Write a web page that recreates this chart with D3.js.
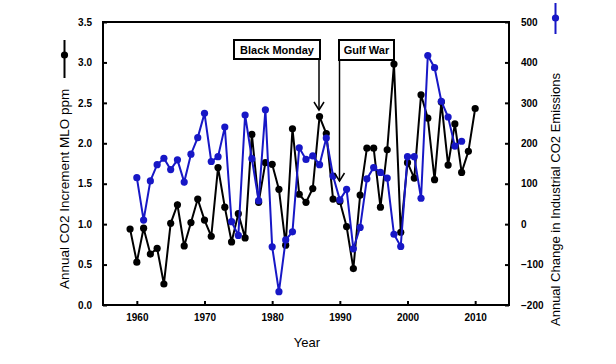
<!DOCTYPE html>
<html>
<head>
<meta charset="utf-8">
<script src="https://d3js.org/d3.v7.min.js"></script>
<style>
  html, body { margin: 0; padding: 0; background: #fff; }
  svg { display: block; }
</style>
</head>
<body>
<div id="chart"></div>
<script>
// ---- data ----
const co2Years = d3.range(1959, 2011);
const co2Increment = [0.94, 0.53, 0.95, 0.63, 0.70, 0.26, 1.01, 1.24, 0.73, 1.02,
  1.31, 1.05, 0.85, 1.70, 1.21, 0.78, 1.13, 0.83, 2.11, 1.27,
  1.76, 1.74, 1.43, 0.74, 2.18, 1.37, 1.27, 1.44, 2.33, 2.12,
  1.31, 1.28, 0.97, 0.45, 1.36, 1.94, 1.94, 1.21, 1.92, 2.98,
  0.90, 1.76, 1.57, 2.60, 2.31, 1.55, 2.51, 1.73, 2.24, 1.64,
  1.90, 2.43];
const emisYears = d3.range(1960, 2009);
const emisChange = [115, 10, 107, 147, 163, 135, 159, 104, 173, 214,
  274, 155, 167, 240, 6, -28, 270, 162, 58, 283,
  -56, -167, -39, -19, 189, 160, 169, 147, 213, 119,
  60, 86, -61, -8, 112, 140, 128, 114, -25, -55,
  167, 167, 64, 417, 387, 304, 265, 193, 205];
const xTicks = [1960, 1970, 1980, 1990, 2000, 2010];
const yLeftTicks = [0, 0.5, 1, 1.5, 2, 2.5, 3, 3.5];
const yRightTicks = [-200, -100, 0, 100, 200, 300, 400, 500];
const annotations = [
  { label: "Black Monday", year: 1987 },
  { label: "Gulf War", year: 1990 }
];
const xTitle = "Year";
const yLeftTitle = "Annual CO2 Increment MLO ppm";
const yRightTitle = "Annual Change in Industrial CO2 Emissions";

// ---- layout ----
const W = 616, H = 364;
const L = 103, R = 509, T = 22, B = 305;
const blue = "#1717c6";
const font = "'Liberation Sans', Arial, sans-serif";

const svg = d3.select("#chart").append("svg")
  .attr("width", W).attr("height", H)
  .style("font-family", font);

const x = d3.scaleLinear().domain([1955, 2015]).range([L, R]);
const yL = d3.scaleLinear().domain([0, 3.5]).range([B, T]);
const yR = d3.scaleLinear().domain([-200, 500]).range([B, T]);

// axes
function styleAxis(g) {
  g.select(".domain").remove();
  g.selectAll(".tick line").attr("stroke", "#000").attr("stroke-width", 2);
  g.selectAll(".tick text").attr("fill", "#000")
    .style("font-size", "10px").style("font-weight", "bold");
}
svg.append("g").attr("transform", `translate(0,${B})`)
  .call(d3.axisBottom(x).tickValues(xTicks).tickFormat(d3.format("d"))
    .tickSizeInner(-4).tickSizeOuter(0).tickPadding(9))
  .call(styleAxis);
svg.append("g").attr("transform", `translate(${L},0)`)
  .call(d3.axisLeft(yL).tickValues(yLeftTicks).tickFormat(d3.format(".1f"))
    .tickSizeInner(-4).tickSizeOuter(0).tickPadding(11))
  .call(styleAxis);
svg.append("g").attr("transform", `translate(${R},0)`)
  .call(d3.axisRight(yR).tickValues(yRightTicks).tickFormat(d3.format("d"))
    .tickSizeInner(-4).tickSizeOuter(0).tickPadding(12))
  .call(styleAxis);

// frame
svg.append("rect").attr("x", L).attr("y", T)
  .attr("width", R - L).attr("height", B - T)
  .attr("fill", "none").attr("stroke", "#000").attr("stroke-width", 2);

// series
const blackData = co2Years.map((yr, i) => [yr, co2Increment[i]]);
const blueData = emisYears.map((yr, i) => [yr, emisChange[i]]);
const mr = 3.6;

svg.append("path").datum(blackData)
  .attr("fill", "none").attr("stroke", "#000").attr("stroke-width", 2)
  .attr("d", d3.line().x(d => x(d[0])).y(d => yL(d[1])));
svg.append("g").selectAll("circle").data(blackData).join("circle")
  .attr("cx", d => x(d[0])).attr("cy", d => yL(d[1])).attr("r", mr)
  .attr("fill", "#000");

svg.append("path").datum(blueData)
  .attr("fill", "none").attr("stroke", blue).attr("stroke-width", 2)
  .attr("d", d3.line().x(d => x(d[0])).y(d => yR(d[1])));
svg.append("g").selectAll("circle").data(blueData).join("circle")
  .attr("cx", d => x(d[0])).attr("cy", d => yR(d[1])).attr("r", mr)
  .attr("fill", blue);

// annotations
const boxes = [
  { a: annotations[0], x0: 234, x1: 320, y0: 40, y1: 59, ax: 319, tipY: 110 },
  { a: annotations[1], x0: 339, x1: 394, y0: 40, y1: 60, ax: 339.5, tipY: 181 }
];
boxes.forEach(b => {
  svg.append("rect").attr("x", b.x0).attr("y", b.y0)
    .attr("width", b.x1 - b.x0).attr("height", b.y1 - b.y0)
    .attr("fill", "#fff").attr("stroke", "#000").attr("stroke-width", 2);
  svg.append("text").attr("x", (b.x0 + b.x1) / 2).attr("y", (b.y0 + b.y1) / 2 + 4)
    .attr("text-anchor", "middle").style("font-size", "11px").style("font-weight", "bold")
    .text(b.a.label);
  svg.append("line").attr("x1", b.ax).attr("x2", b.ax).attr("y1", b.y1).attr("y2", b.tipY)
    .attr("stroke", "#000").attr("stroke-width", 1.5);
  svg.append("path")
    .attr("d", `M${b.ax - 5},${b.tipY - 8} L${b.ax},${b.tipY} L${b.ax + 5},${b.tipY - 8}`)
    .attr("fill", "none").attr("stroke", "#000").attr("stroke-width", 1.5);
});

// titles
svg.append("text").attr("x", (L + R) / 2 + 1).attr("y", 347)
  .attr("text-anchor", "middle").style("font-size", "13px").text(xTitle);

svg.append("text")
  .attr("transform", `translate(69,289) rotate(-90)`)
  .attr("text-anchor", "start").style("font-size", "13.5px").text(yLeftTitle);
svg.append("line").attr("x1", 64.5).attr("x2", 64.5).attr("y1", 40).attr("y2", 78)
  .attr("stroke", "#000").attr("stroke-width", 2);
svg.append("circle").attr("cx", 64.5).attr("cy", 55).attr("r", mr).attr("fill", "#000");

svg.append("text")
  .attr("transform", `translate(560,326) rotate(-90)`)
  .attr("text-anchor", "start").style("font-size", "13px").text(yRightTitle);
svg.append("line").attr("x1", 555.5).attr("x2", 555.5).attr("y1", 3).attr("y2", 34)
  .attr("stroke", blue).attr("stroke-width", 2);
svg.append("circle").attr("cx", 555.5).attr("cy", 18).attr("r", mr).attr("fill", blue);
</script>
</body>
</html>
